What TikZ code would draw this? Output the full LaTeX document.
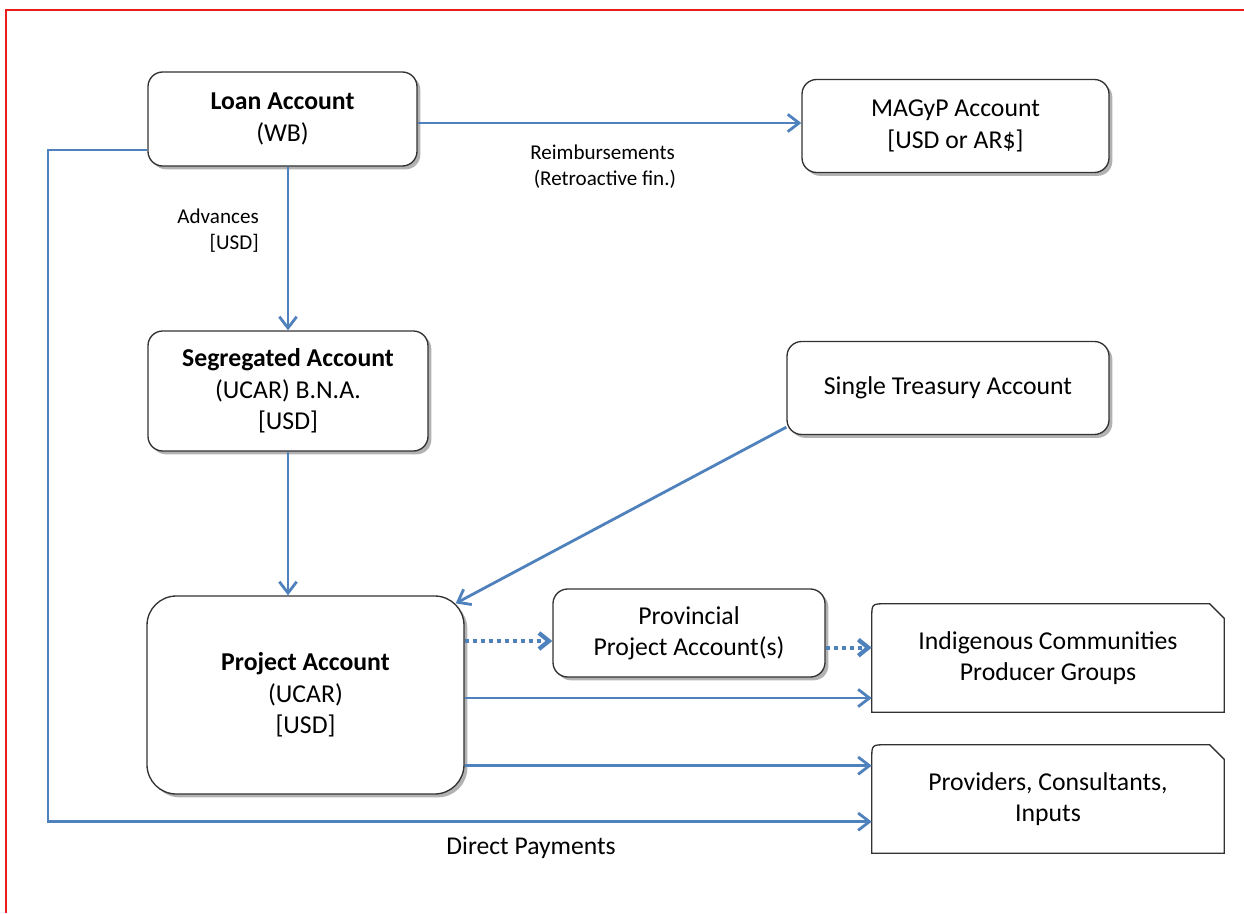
\documentclass[tikz,border=0pt]{standalone}
\usepackage{fontspec}
\setmainfont{Carlito}
\usetikzlibrary{arrows.meta, positioning, shadows, calc}
\definecolor{flowblue}{RGB}{79,129,189}
\definecolor{edgegray}{RGB}{50,50,50}
\definecolor{framered}{RGB}{230,30,30}

\begin{document}
\begin{tikzpicture}[
    x=0.75pt, y=-0.75pt,
    acct/.style={rectangle, rounded corners=11pt, draw=edgegray, line width=1pt, fill=white, align=center,
        font=\fontsize{19.3}{23.5}\selectfont, inner sep=2pt,
        drop shadow={shadow xshift=2.5pt, shadow yshift=-2.5pt, opacity=0.3, fill=black}},
    snipbox/.style={rectangle, align=center, font=\fontsize{19.3}{23.5}\selectfont, inner sep=2pt},
    lbl/.style={align=left, font=\fontsize{15.8}{19.5}\selectfont, inner sep=0pt},
    flow/.style={-{Straight Barb[length=8.5pt, width=13pt]}, line width=2.1pt, color=flowblue},
    dotflow/.style={-{Straight Barb[length=7.5pt, width=12pt]}, line width=3.2pt, color=flowblue, dash pattern=on 3pt off 3pt}
]
\useasboundingbox (0,0) rectangle (1244,913);
\draw[framered, line width=0.8pt] (6,913) -- (6,10) -- (1244,10);

% accounts
\node[acct, minimum width=201.75pt, minimum height=70.5pt] (loan) at (282.5,119) {\textbf{Loan Account}\\(WB)};
\node[acct, minimum width=230.25pt, minimum height=69.75pt] (magyp) at (955.5,126) {MAGyP Account\\{}[USD or AR\$]};
\node[acct, minimum width=210pt, minimum height=90pt] (seg) at (288,391) {\textbf{Segregated Account}\\(UCAR) B.N.A.\\{}[USD]};
\node[acct, minimum width=241.5pt, minimum height=69.75pt] (treasury) at (948,388) {Single Treasury Account};
\node[acct, rounded corners=22pt, minimum width=237.75pt, minimum height=148.5pt] (project) at (305.5,695) {\textbf{Project Account}\\(UCAR)\\{}[USD]};
\node[acct, minimum width=204pt, minimum height=66pt] (prov) at (689,633) {Provincial\\Project Account(s)};
\node[snipbox, minimum width=264pt, minimum height=81pt] (indig) at (1048,658) {Indigenous Communities\\Producer Groups};
\node[snipbox, minimum width=264pt, minimum height=81pt] (provid) at (1048,799) {Providers, Consultants,\\Inputs};
\foreach \n in {indig,provid}
  \draw[edgegray, line width=1pt] (\n.south west) -- ([yshift=-11pt]\n.north west)
    .. controls (\n.north west) .. ([xshift=11pt]\n.north west) -- ([xshift=-11pt]\n.north east)
    -- ([yshift=-11pt]\n.north east) -- (\n.south east) -- cycle;

% labels
\node[lbl, anchor=north east, align=right] (advlbl) at (259,209) {Advances\\{}[USD]};
\node[lbl, anchor=north west] (reimblbl) at (530,145) {Reimbursements\\\,(Retroactive fin.)};
\node[lbl, font=\fontsize{19.2}{22}\selectfont] (directlbl) at (531,848) {Direct Payments};

% flows
\coordinate (provin) at ([yshift=-6pt]prov.west);
\coordinate (provout) at ([yshift=-11pt]prov.east);
\coordinate (indigin) at ([yshift=-30pt]indig.west);
\coordinate (providtop) at ([yshift=25pt]provid.west);
\coordinate (providlow) at ([yshift=-17pt]provid.west);
\coordinate (loanout) at ([yshift=-23.25pt]loan.west);
\coordinate (bend) at (48,0);
\draw[flow] (loan.east |- 0,123) -- (magyp.west |- 0,123);
\draw[flow] (seg.north |- loan.south) -- (seg.north);
\draw[flow] (seg.south) -- (seg.south |- project.north);
\draw[flow] ([yshift=6pt]treasury.south west) -- ([xshift=-6.75pt, yshift=-6pt]project.north east);
\draw[dotflow] (project.east |- provin) -- (provin);
\draw[dotflow] (provout) -- (indig.west |- provout);
\draw[flow] (project.east |- indigin) -- (indigin);
\draw[flow] (project.east |- providtop) -- (providtop);
\draw[flow] (loanout) -- (loanout -| bend) -- (bend |- providlow) -- (providlow);
\end{tikzpicture}
\end{document}
